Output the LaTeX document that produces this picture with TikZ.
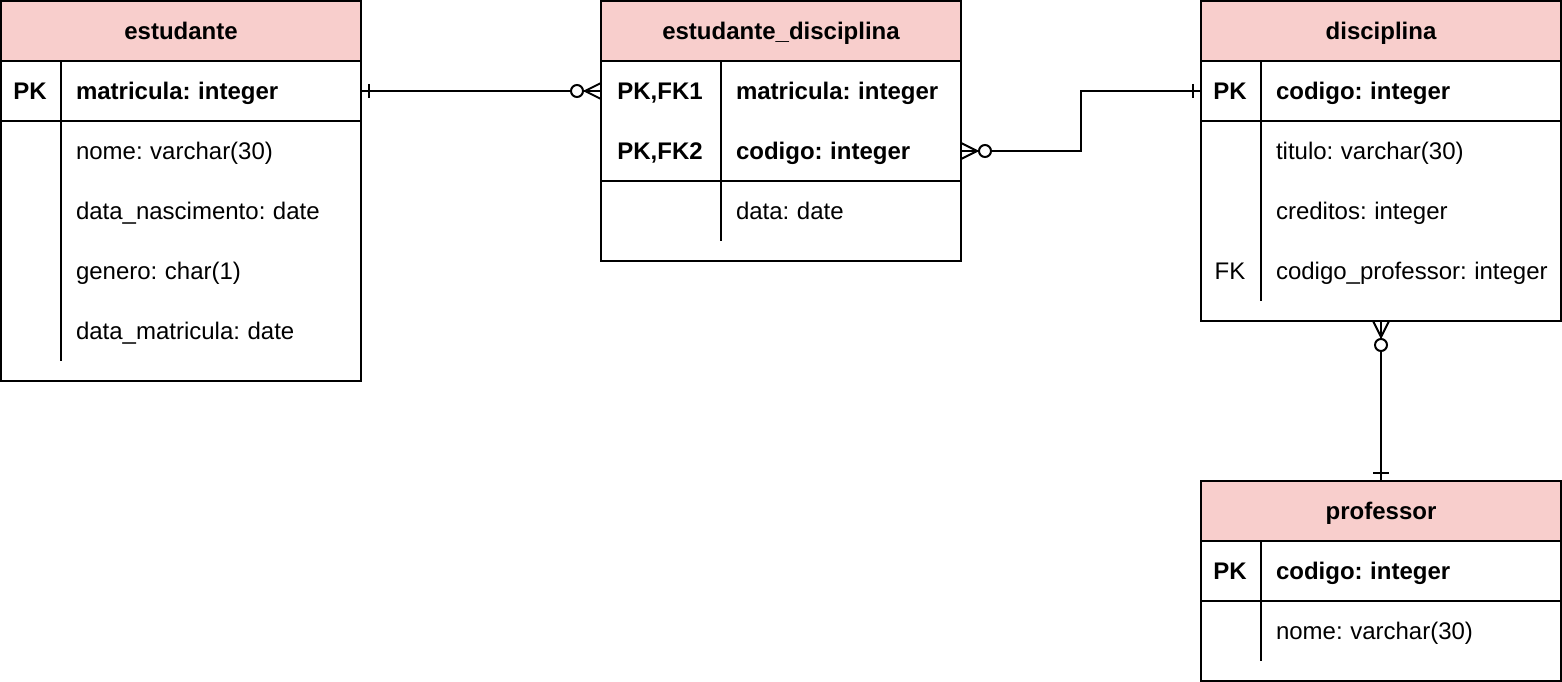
\documentclass[tikz,border=0pt]{standalone}
\usepackage{fontspec}
\setmainfont{Liberation Sans}[WordSpace=0.8]
\usepackage{xcolor}
\definecolor{hdpink}{HTML}{F8CECC}
\usetikzlibrary{positioning}

\begin{document}
\begin{tikzpicture}[x=1pt, y=-1pt, line width=2pt,
  font=\fontsize{24}{28}\selectfont,
  tbl/.style={draw, anchor=north west, minimum width=360pt, inner sep=0pt, outer sep=0pt},
  hd/.style={tbl, fill=hdpink, minimum height=60pt, text height=21.7pt, text depth=5.1pt,
             font=\fontsize{24}{28}\selectfont\bfseries},
  fld/.style={anchor=west, inner sep=0pt, text height=21.7pt, text depth=5.1pt},
  key/.style={anchor=center, inner sep=0pt, text height=21.7pt, text depth=5.1pt},
  pk/.style={font=\fontsize{24}{28}\selectfont\bfseries},
  rel/.style={draw, line width=2pt},
  ring/.style={draw, fill=white, line width=2pt}]
\useasboundingbox (0,0) rectangle (1562,682);
% Tables.
\node[tbl, minimum height=380pt] (est) at (1,1) {};
\node[hd] (estH) at (1,1) {estudante};
\node[tbl, minimum height=260pt] (ed) at (601,1) {};
\node[hd] (edH) at (601,1) {estudante\_disciplina};
\node[tbl, minimum height=320pt] (dis) at (1201,1) {};
\node[hd] (disH) at (1201,1) {disciplina};
\node[tbl, minimum height=200pt] (prof) at (1201,481) {};
\node[hd] (profH) at (1201,481) {professor};
% estudante rows.
\draw ([yshift=-120pt]est.north west) -- ([yshift=-120pt]est.north east);
\draw ([shift={(60pt,-60pt)}]est.north west) -- ++(0pt,-300pt);
\node[key, pk] (estK1) at ([shift={(29pt,-90pt)}]est.north west) {PK};
\node[fld, pk] (estF1) at ([shift={(74pt,-90pt)}]est.north west) {matricula: integer};
\node[fld] (estF2) at ([shift={(74pt,-150pt)}]est.north west) {nome: varchar(30)};
\node[fld] (estF3) at ([shift={(74pt,-210pt)}]est.north west) {data\_nascimento: date};
\node[fld] (estF4) at ([shift={(74pt,-270pt)}]est.north west) {genero: char(1)};
\node[fld] (estF5) at ([shift={(74pt,-330pt)}]est.north west) {data\_matricula: date};
% estudante_disciplina rows.
\draw ([yshift=-180pt]ed.north west) -- ([yshift=-180pt]ed.north east);
\draw ([shift={(120pt,-60pt)}]ed.north west) -- ++(0pt,-180pt);
\node[key, pk] (edK1) at ([shift={(59pt,-90pt)}]ed.north west) {PK,FK1};
\node[key, pk] (edK2) at ([shift={(59pt,-150pt)}]ed.north west) {PK,FK2};
\node[fld, pk] (edF1) at ([shift={(134pt,-90pt)}]ed.north west) {matricula: integer};
\node[fld, pk] (edF2) at ([shift={(134pt,-150pt)}]ed.north west) {codigo: integer};
\node[fld] (edF3) at ([shift={(134pt,-210pt)}]ed.north west) {data: date};
% disciplina rows.
\draw ([yshift=-120pt]dis.north west) -- ([yshift=-120pt]dis.north east);
\draw ([shift={(60pt,-60pt)}]dis.north west) -- ++(0pt,-240pt);
\node[key, pk] (disK1) at ([shift={(29pt,-90pt)}]dis.north west) {PK};
\node[key] (disK4) at ([shift={(29pt,-270pt)}]dis.north west) {FK};
\node[fld, pk] (disF1) at ([shift={(74pt,-90pt)}]dis.north west) {codigo: integer};
\node[fld] (disF2) at ([shift={(74pt,-150pt)}]dis.north west) {titulo: varchar(30)};
\node[fld] (disF3) at ([shift={(74pt,-210pt)}]dis.north west) {creditos: integer};
\node[fld] (disF4) at ([shift={(74pt,-270pt)}]dis.north west) {codigo\_professor: integer};
% professor rows.
\draw ([yshift=-120pt]prof.north west) -- ([yshift=-120pt]prof.north east);
\draw ([shift={(60pt,-60pt)}]prof.north west) -- ++(0pt,-120pt);
\node[key, pk] (profK1) at ([shift={(29pt,-90pt)}]prof.north west) {PK};
\node[fld, pk] (profF1) at ([shift={(74pt,-90pt)}]prof.north west) {codigo: integer};
\node[fld] (profF2) at ([shift={(74pt,-150pt)}]prof.north west) {nome: varchar(30)};
% Relations: one at the tick, zero-or-many at the ring and crow's foot.
\coordinate (r1a) at ([yshift=-90pt]est.north east);
\coordinate (r1b) at ([yshift=-90pt]ed.north west);
\draw[rel] (r1a) -- (r1b);
\draw ([shift={(8pt,7pt)}]r1a) -- ++(0pt,-14pt);
\draw ([xshift=-16pt]r1b) -- ([yshift=8pt]r1b) ([xshift=-16pt]r1b) -- ([yshift=-8pt]r1b);
\draw[ring] ([xshift=-24pt]r1b) circle[radius=6pt];
\coordinate (r2a) at ([yshift=-150pt]ed.north east);
\coordinate (r2b) at ([yshift=-90pt]dis.north west);
\draw[rel] (r2a) -- ++(120pt,0pt) |- (r2b);
\draw ([shift={(-8pt,7pt)}]r2b) -- ++(0pt,-14pt);
\draw ([xshift=16pt]r2a) -- ([yshift=8pt]r2a) ([xshift=16pt]r2a) -- ([yshift=-8pt]r2a);
\draw[ring] ([xshift=24pt]r2a) circle[radius=6pt];
\coordinate (r3a) at (dis.south);
\coordinate (r3b) at (prof.north);
\draw[rel] (r3a) -- (r3b);
\draw ([shift={(-8pt,8pt)}]r3b) -- ++(16pt,0pt);
\draw ([yshift=-16pt]r3a) -- ([xshift=-8pt]r3a) ([yshift=-16pt]r3a) -- ([xshift=8pt]r3a);
\draw[ring] ([yshift=-24pt]r3a) circle[radius=6pt];
\end{tikzpicture}
\end{document}
